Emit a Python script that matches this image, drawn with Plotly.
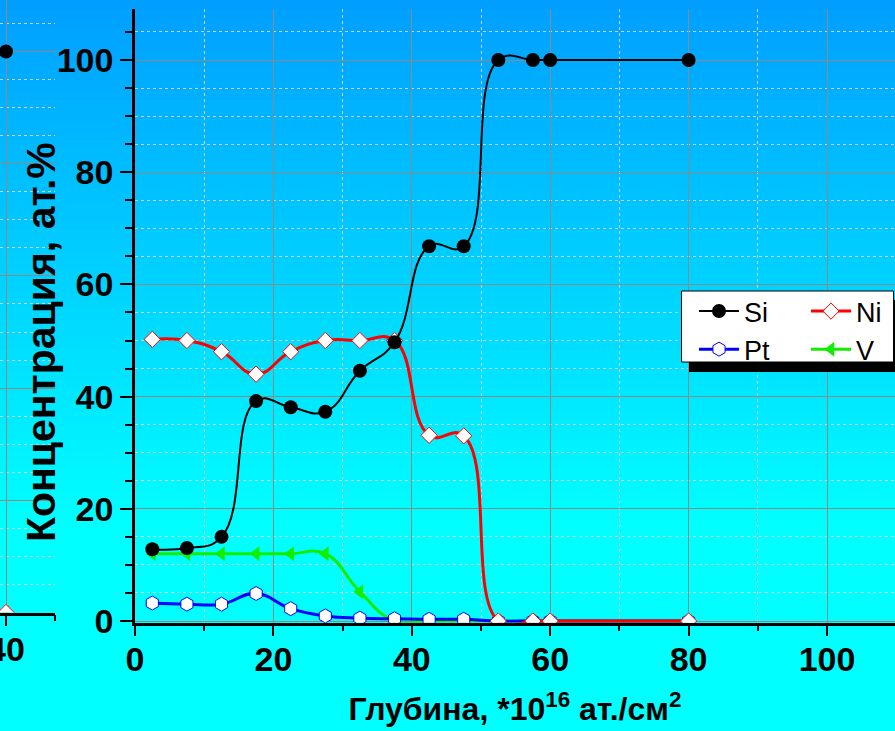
import plotly.graph_objects as go

# ---------------- data ----------------
depth = [2.5, 7.5, 12.5, 17.5, 22.5, 27.5, 32.5, 37.5, 42.5, 47.5, 52.5, 57.5, 60, 80]
si = [12.8, 13.0, 15.0, 39.2, 38.1, 37.3, 44.6, 49.7, 66.8, 66.8, 100, 100, 100, 100]
ni = [50.2, 50.0, 48.0, 44.0, 48.0, 50.0, 50.0, 50.0, 33.1, 33.0, 0, 0, 0, 0]
pt = [3.2, 3.0, 3.0, 4.9, 2.2, 0.9, 0.5, 0.4, 0.3, 0.3, 0, 0, 0, 0]
v = [12.0, 12.0, 12.0, 12.0, 12.0, 12.0, 5.2, 0, 0, 0, 0, 0, 0, 0]

# fragment of the neighbouring chart visible at the left edge
left_depth = [40]
left_si = [100]
left_ni = [0]
left_v = [0]

x_title = "Глубина, *10<sup>16</sup> ат./см<sup>2</sup>"
y_title = "Концентрация, ат.%"

W, H = 895, 731
FONT = "Liberation Sans, Arial, sans-serif"

def px_x(p):
    return p / W

def px_y(p):
    return 1 - p / H

fig = go.Figure()

SM = 1.3
# main traces (drawing order: V, Pt, Ni, Si)
fig.add_trace(go.Scatter(
    x=depth, y=v, name="V", mode="lines+markers",
    line=dict(color="#11EE00", width=3, shape="spline", smoothing=SM),
    marker=dict(symbol="triangle-left", size=13, color="#11EE00"),
    legend="legend2", legendrank=2))
fig.add_trace(go.Scatter(
    x=depth, y=pt, name="Pt", mode="lines+markers",
    line=dict(color="#0000FF", width=3, shape="spline", smoothing=SM),
    marker=dict(symbol="hexagon", size=14, color="white",
                line=dict(color="#0000FF", width=1)),
    legend="legend", legendrank=2))
fig.add_trace(go.Scatter(
    x=depth, y=ni, name="Ni", mode="lines+markers",
    line=dict(color="#FF0000", width=3, shape="spline", smoothing=SM),
    marker=dict(symbol="diamond", size=12.5, color="white",
                line=dict(color="#FF0000", width=1)),
    legend="legend2", legendrank=1))
fig.add_trace(go.Scatter(
    x=depth, y=si, name="Si", mode="lines+markers",
    line=dict(color="black", width=2, shape="spline", smoothing=SM),
    marker=dict(symbol="circle", size=14, color="black"),
    legend="legend", legendrank=1))

# left fragment traces
fig.add_trace(go.Scatter(x=left_depth, y=left_v, xaxis="x2", yaxis="y2", mode="markers",
                         marker=dict(symbol="triangle-left", size=13, color="#11EE00"),
                         showlegend=False))
fig.add_trace(go.Scatter(x=left_depth, y=left_ni, xaxis="x2", yaxis="y2", mode="markers",
                         marker=dict(symbol="diamond", size=12.5, color="white",
                                     line=dict(color="#FF0000", width=1)),
                         showlegend=False))
fig.add_trace(go.Scatter(x=left_depth, y=left_si, xaxis="x2", yaxis="y2", mode="markers",
                         marker=dict(symbol="circle", size=14, color="black"),
                         showlegend=False))

# ---------------- background gradient ----------------
shapes = []
n_bands = 52
top_px, end_px = 0, 520
for i in range(n_bands):
    y0p = top_px + (end_px - top_px) * i / n_bands
    y1p = top_px + (end_px - top_px) * (i + 1) / n_bands
    g = int(round(158 + (255 - 158) * (i + 0.5) / n_bands))
    shapes.append(dict(type="rect", xref="paper", yref="paper",
                       x0=0, x1=1, y0=px_y(y1p + 0.5), y1=px_y(y0p),
                       fillcolor=f"rgb(0,{g},255)", line=dict(width=0),
                       layer="below"))

# legend shadow and box
shapes.append(dict(type="rect", xref="paper", yref="paper",
                   x0=px_x(689), x1=px_x(905), y0=px_y(372), y1=px_y(300),
                   fillcolor="black", line=dict(width=0), layer="above"))
shapes.append(dict(type="rect", xref="paper", yref="paper",
                   x0=px_x(681.5), x1=px_x(893.5), y0=px_y(362), y1=px_y(291),
                   fillcolor="white", line=dict(color="black", width=1), layer="above"))

axis_common = dict(
    showline=True, linecolor="black", linewidth=2.5,
    ticks="outside", tickcolor="black", tickwidth=2,
    showgrid=True, gridcolor="#8a8a8a", gridwidth=1,
    zeroline=False, automargin=False, ticklabeloverflow="allow",
    tickfont=dict(family=FONT, size=34, color="black", weight="bold"),
)

y0_px = 621.0
ppu_y = 5.61
y_min = -0.3
y_max = (y0_px - 9) / ppu_y
main_bottom_px = y0_px - y_min * ppu_y

fig.update_layout(
    template="none",
    width=W, height=H,
    margin=dict(l=0, r=0, t=0, b=0, pad=0),
    paper_bgcolor="#00FFFF",
    plot_bgcolor="rgba(0,0,0,0)",
    shapes=shapes,
    annotations=[dict(text=y_title, xref="paper", yref="paper",
                      x=px_x(41), y=px_y(342), xanchor="center", yanchor="middle",
                      textangle=-90, showarrow=False,
                      font=dict(family=FONT, size=41, color="black", weight="bold"))],
    xaxis=dict(
        domain=[px_x(135), 1], range=[0, (W - 135) / 6.92],
        dtick=20, tick0=0, ticklen=11, anchor="y", layer="below traces",
        ticklabelstandoff=-6,
        minor=dict(dtick=10, ticklen=6, tickwidth=2, tickcolor="black", ticks="outside",
                   showgrid=True, gridcolor="#cfcfcf", griddash="dot", gridwidth=1),
        title=dict(text=x_title, standoff=21,
                   font=dict(family=FONT, size=32, color="black", weight="bold")),
        **axis_common),
    yaxis=dict(
        domain=[px_y(main_bottom_px), px_y(9)], range=[y_min, y_max],
        dtick=20, tick0=0, ticklen=12, anchor="x",
        minor=dict(dtick=5, ticklen=7, tickwidth=2, tickcolor="black", ticks="outside",
                   showgrid=True, gridcolor="#cfcfcf", griddash="dot", gridwidth=1),
        **axis_common),
    xaxis2=dict(
        domain=[0, px_x(55)], range=[40 - 6 / 4.9, 50],
        dtick=20, tick0=0, ticklen=11, anchor="y2",
        ticklabelstandoff=-6,
        minor=dict(dtick=10, ticklen=6, tickwidth=2, tickcolor="black", ticks="outside",
                   showgrid=False),
        **axis_common),
    yaxis2=dict(
        domain=[px_y(612.5), 1], range=[0, 612.5 / 5.61],
        dtick=20, tick0=0, anchor="x2", automargin=False,
        showline=False, ticks="", showticklabels=False,
        showgrid=True, gridcolor="#8a8a8a", gridwidth=1, zeroline=False,
        minor=dict(dtick=5, showgrid=True, gridcolor="#cfcfcf", griddash="dot", gridwidth=1)),
    legend=dict(x=px_x(694), y=px_y(287), xanchor="left", yanchor="top",
                bgcolor="rgba(0,0,0,0)", borderwidth=0,
                font=dict(family=FONT, size=27, color="black"),
                itemwidth=40, tracegroupgap=0),
    legend2=dict(x=px_x(806), y=px_y(287), xanchor="left", yanchor="top",
                 bgcolor="rgba(0,0,0,0)", borderwidth=0,
                 font=dict(family=FONT, size=27, color="black"),
                 itemwidth=40, tracegroupgap=0),
)

fig.write_html("out.html")
